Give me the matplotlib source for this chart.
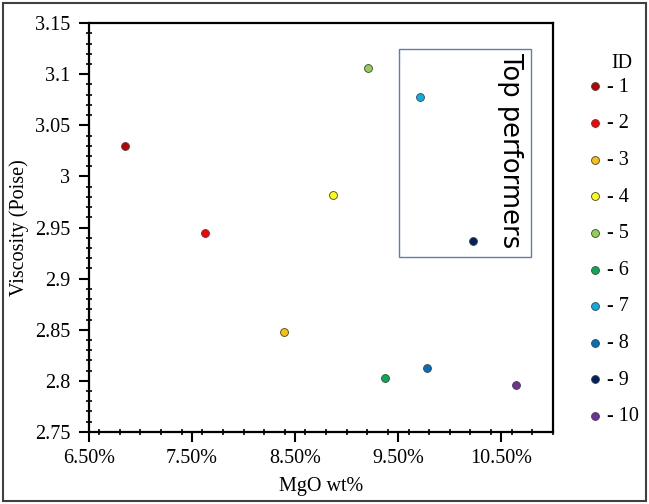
import numpy as np
import matplotlib
matplotlib.use("Agg")
import matplotlib.pyplot as plt
from matplotlib.patches import Rectangle
from matplotlib.ticker import PercentFormatter, MultipleLocator

plt.rcParams['font.family'] = ['Liberation Serif', 'DejaVu Serif']

ids = ['1', '2', '3', '4', '5', '6', '7', '8', '9', '10']
mgo = [0.0685, 0.0763, 0.0839, 0.0887, 0.0921, 0.0937, 0.0971, 0.0978, 0.1022, 0.1064]
visc = [3.030, 2.945, 2.848, 2.982, 3.106, 2.803, 3.078, 2.813, 2.937, 2.796]
colors = ['#C00000', '#FF0000', '#FFC000', '#FFFF00', '#92D050',
          '#00B050', '#00B0F0', '#0070C0', '#002060', '#7030A0']

fig = plt.figure(figsize=(6.49, 5.04), dpi=100)
ax = fig.add_axes([0.137, 0.143, 0.715, 0.811])

for i in range(len(ids)):
    ax.scatter(mgo[i], visc[i], s=32, color=colors[i], edgecolors='#404040',
               linewidths=0.6, zorder=3, label='- ' + ids[i])

ax.set_xlim(0.065, 0.110)
ax.set_ylim(2.75, 3.15)
ax.set_xticks([0.065, 0.075, 0.085, 0.095, 0.105])
ax.xaxis.set_minor_locator(MultipleLocator(0.002))
ax.set_yticks(np.arange(2.75, 3.151, 0.05))
ax.yaxis.set_minor_locator(MultipleLocator(0.01))
ax.xaxis.set_major_formatter(PercentFormatter(1, decimals=2))
ax.yaxis.set_major_formatter(plt.FuncFormatter(lambda v, p: ('%.2f' % v).rstrip('0').rstrip('.')))

ax.tick_params(which='major', direction='out', length=7, width=1.5, labelsize=14.5)
ax.tick_params(axis='y', which='major', pad=6.5)
ax.tick_params(axis='x', which='major', pad=5.5)
ax.tick_params(which='minor', direction='inout', length=5, width=1.2)
for s in ax.spines.values():
    s.set_linewidth(1.6)

ax.set_xlabel('MgO wt%', fontsize=14.5, labelpad=6)
ax.set_ylabel('Viscosity (Poise)', fontsize=14.5, labelpad=4)

# top performers box
ax.add_patch(Rectangle((0.0951, 2.921), 0.0128, 0.204, fill=False,
                       edgecolor='#5A7FB8', linewidth=1, zorder=2))
ax.text(0.1058, 3.025, 'Top performers', rotation=-90, ha='center', va='center',
        fontsize=18.5, family='DejaVu Sans', color='black')

leg = ax.legend(loc='upper left', bbox_to_anchor=(0.885, 0.862),
                bbox_transform=fig.transFigure, frameon=False, fontsize=14.5,
                handletextpad=0.0, labelspacing=0.87,
                borderaxespad=0, handlelength=1.2)
fig.text(622 / 649, 1 - 64 / 504, 'ID', ha='center', va='center', fontsize=14.5)

fig.add_artist(Rectangle((0.004, 0.005), 0.991, 0.99, transform=fig.transFigure,
                         fill=False, edgecolor='#404040', linewidth=1.5))

fig.savefig('out.png', dpi=100)
